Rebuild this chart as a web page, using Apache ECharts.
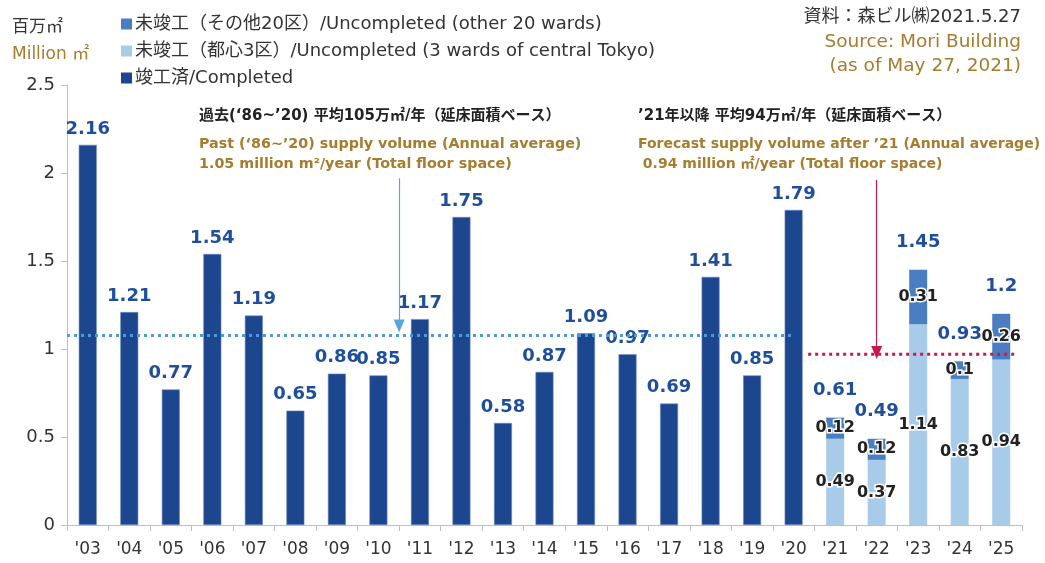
<!DOCTYPE html>
<html>
<head>
<meta charset="utf-8">
<script src="https://cdn.jsdelivr.net/npm/echarts@6/dist/echarts.min.js"></script>
<style>
  html, body { margin: 0; padding: 0; background: #fff; }
  #main { width: 1045px; height: 563px; }
</style>
</head>
<body>
<div id="main"></div>
<script>
// 年度
var years = ["'03", "'04", "'05", "'06", "'07", "'08", "'09", "'10", "'11", "'12", "'13", "'14",
  "'15", "'16", "'17", "'18", "'19", "'20", "'21", "'22", "'23", "'24", "'25"];
// 竣工済
var completed = [2.16, 1.21, 0.77, 1.54, 1.19, 0.65, 0.86, 0.85, 1.17, 1.75, 0.58, 0.87,
  1.09, 0.97, 0.69, 1.41, 0.85, 1.79, '-', '-', '-', '-', '-'];
// 未竣工（都心3区）
var central3 = ['-', '-', '-', '-', '-', '-', '-', '-', '-', '-', '-', '-',
  '-', '-', '-', '-', '-', '-', 0.49, 0.37, 1.14, 0.83, 0.94];
// 未竣工（その他20区）
var other20 = ['-', '-', '-', '-', '-', '-', '-', '-', '-', '-', '-', '-',
  '-', '-', '-', '-', '-', '-', 0.12, 0.12, 0.31, 0.1, 0.26];
// 合計 (未竣工)
var futureTotal = ['-', '-', '-', '-', '-', '-', '-', '-', '-', '-', '-', '-',
  '-', '-', '-', '-', '-', '-', 0.61, 0.49, 1.45, 0.93, 1.2];
// 平均線 (x は年の区切り位置)
var pastAvg = [[0, 1.077], [17.45, 1.077]];
var futureAvg = [[17.85, 0.97], [22.85, 0.97]];
var yTicks = [0, 0.5, 1, 1.5, 2, 2.5];

var gold = '#A67C2E';
var navy = '#1C468E';
var font = "'DejaVu Sans', 'Noto Sans CJK JP', sans-serif";

var myChart = echarts.init(document.getElementById('main'));
myChart.setOption({
  animation: false,
  textStyle: { fontFamily: font },
  grid: { left: 67, right: 23, top: 85, bottom: 38, containLabel: false },
  legend: {
    data: ['未竣工（その他20区）/Uncompleted (other 20 wards)', '未竣工（都心3区）/Uncompleted (3 wards of central Tokyo)', '竣工済/Completed'],
    orient: 'vertical',
    left: 116,
    top: 10,
    icon: 'rect',
    itemWidth: 11,
    itemHeight: 11,
    itemGap: 9,
    selectedMode: false,
    itemStyle: { borderWidth: 0 },
    textStyle: { fontSize: 18, color: '#333', fontFamily: font, padding: [0, 0, 0, -2] }
  },
  xAxis: [
    {
      type: 'category',
      data: years,
      axisLine: { lineStyle: { color: '#BFBFBF' } },
      axisTick: { show: true, length: 6, lineStyle: { color: '#BFBFBF' } },
      axisLabel: { color: '#333', fontSize: 17, margin: 16 }
    },
    {
      // 平均線・矢印用の補助軸
      type: 'value', min: 0, max: 23, show: false
    }
  ],
  yAxis: {
    type: 'value',
    min: 0,
    max: 2.5,
    interval: 0.5,
    splitLine: { show: false },
    axisLine: { show: true, lineStyle: { color: '#BFBFBF' } },
    axisTick: { show: true, length: 6, lineStyle: { color: '#BFBFBF' } },
    axisLabel: {
      color: '#333', fontSize: 18, margin: 12,
      formatter: function (v) { return yTicks.indexOf(v) >= 0 ? String(v) : ''; }
    }
  },
  series: [
    {
      name: '竣工済/Completed',
      type: 'bar',
      stack: 'total',
      barWidth: 18,
      data: completed,
      itemStyle: { color: navy, borderColor: '#6E8CC4', borderWidth: 0.6 },
      label: {
        show: true, position: 'top', distance: 7,
        color: '#1F4E9A', fontWeight: 'bold', fontSize: 18
      }
    },
    {
      name: '未竣工（都心3区）/Uncompleted (3 wards of central Tokyo)',
      type: 'bar',
      stack: 'total',
      barWidth: 18,
      data: central3,
      itemStyle: { color: '#A9CBEA' },
      label: {
        show: true, position: 'inside',
        color: '#222', fontWeight: 'bold', fontSize: 16,
        textBorderColor: '#fff', textBorderWidth: 3
      }
    },
    {
      name: '未竣工（その他20区）/Uncompleted (other 20 wards)',
      type: 'bar',
      stack: 'total',
      barWidth: 18,
      data: other20,
      itemStyle: { color: '#4A7EC0' },
      label: {
        show: true, position: 'inside',
        color: '#222', fontWeight: 'bold', fontSize: 16,
        textBorderColor: '#fff', textBorderWidth: 3
      }
    },
    {
      name: 'total',
      type: 'scatter',
      data: futureTotal,
      symbolSize: 0,
      itemStyle: { color: navy, opacity: 1 },
      label: {
        show: true, position: 'top', distance: 18,
        color: '#1F4E9A', fontWeight: 'bold', fontSize: 18
      },
      z: 5
    },
    {
      name: 'pastAvg',
      type: 'line',
      xAxisIndex: 1,
      data: pastAvg,
      symbol: 'none',
      lineStyle: { color: '#4A9BD6', width: 3, type: [3, 4] },
      markLine: {
        silent: true,
        symbol: ['none', 'triangle'],
        symbolSize: [11, 13],
        label: { show: false },
        lineStyle: { color: '#5AA6DC', width: 1.2, type: 'solid' },
        data: [[{ coord: [8, 1.97] }, { coord: [8, 1.13] }]]
      }
    },
    {
      name: 'futureAvg',
      type: 'line',
      xAxisIndex: 1,
      data: futureAvg,
      symbol: 'none',
      lineStyle: { color: '#C8174A', width: 3, type: [3, 4] },
      markLine: {
        silent: true,
        symbol: ['none', 'triangle'],
        symbolSize: [11, 13],
        label: { show: false },
        lineStyle: { color: '#C8174A', width: 1.2, type: 'solid' },
        data: [[{ coord: [19.5, 1.96] }, { coord: [19.5, 0.98] }]]
      }
    }
  ],
  graphic: [
    { type: 'text', left: 12, top: 19, style: { text: '百万㎡', fontSize: 17, fill: '#333', fontFamily: font } },
    { type: 'text', left: 12, top: 46, style: { text: 'Million ㎡', fontSize: 17, fill: gold, fontFamily: font } },
    { type: 'text', right: 24, top: 8, style: { text: '資料：森ビル㈱2021.5.27', fontSize: 18, fill: '#333', fontFamily: font } },
    { type: 'text', right: 24, top: 33, style: { text: 'Source: Mori Building', fontSize: 18.5, fill: gold, fontFamily: font } },
    { type: 'text', right: 24, top: 57, style: { text: '(as of May 27, 2021)', fontSize: 18.5, fill: gold, fontFamily: font } },
    { type: 'text', left: 199, top: 109, style: { text: '過去(‘86~’20) 平均105万㎡/年（延床面積ベース）', fontSize: 15, fontWeight: 'bold', fill: '#222', fontFamily: font } },
    { type: 'text', left: 199, top: 137, style: { text: 'Past (‘86~’20) supply volume (Annual average)', fontSize: 14.3, fontWeight: 'bold', fill: gold, fontFamily: font } },
    { type: 'text', left: 199, top: 157, style: { text: '1.05 million m²/year (Total floor space)', fontSize: 14.3, fontWeight: 'bold', fill: gold, fontFamily: font } },
    { type: 'text', left: 638, top: 109, style: { text: '’21年以降 平均94万㎡/年（延床面積ベース）', fontSize: 15, fontWeight: 'bold', fill: '#222', fontFamily: font } },
    { type: 'text', left: 638, top: 137, style: { text: 'Forecast supply volume after ’21 (Annual average)', fontSize: 14, fontWeight: 'bold', fill: gold, fontFamily: font } },
    { type: 'text', left: 638, top: 157, style: { text: ' 0.94 million ㎡/year (Total floor space)', fontSize: 14, fontWeight: 'bold', fill: gold, fontFamily: font } }
  ]
});
</script>
</body>
</html>
